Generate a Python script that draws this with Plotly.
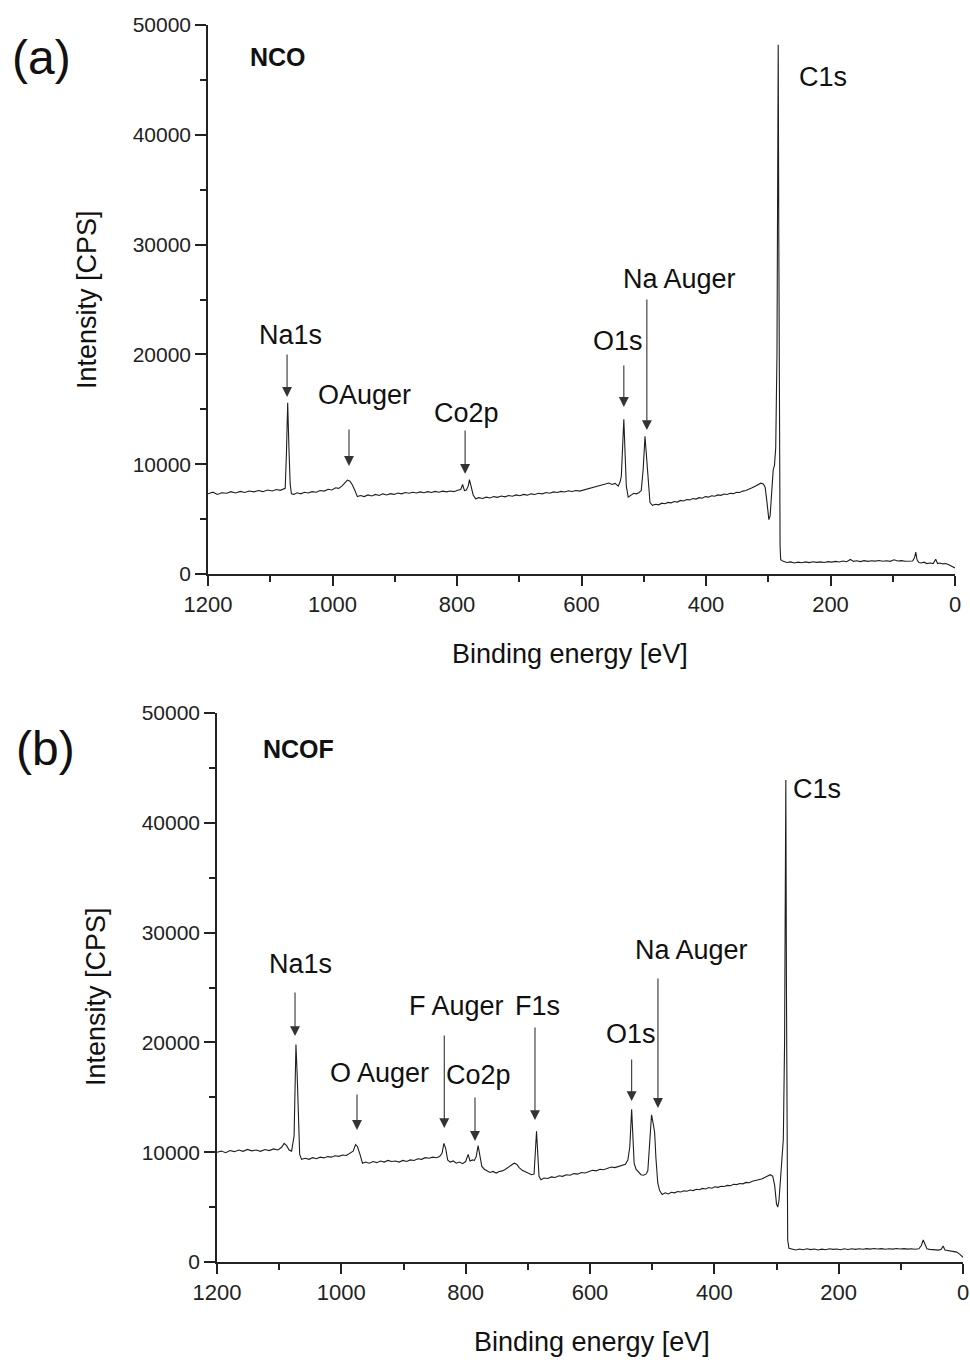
import plotly.graph_objects as go

# ---------------- Panel (a): NCO ----------------
be_a = [1200,1192,1185,1178,1170,1163,1156,1148,1141,1134,1126,1119,1112,1104,1097,1090,1084,1079,1076,1074,1072,1070,1068,1066,
        1062,1057,1051,1045,1039,1033,1026,1020,1013,1007,1001,995,990,985,980,976,972,968,964,960,955,949,943,937,931,925,919,
        913,907,901,895,889,883,877,871,865,859,853,847,841,835,829,823,817,811,805,799,794,791,788,785,782,780,777,774,770,765,
        759,753,747,741,735,729,723,717,711,705,699,693,687,681,675,669,663,657,651,645,639,633,627,621,615,609,603,597,591,585,
        579,573,567,561,556,551,546,541,538,536,534,532,530,528,525,521,516,512,508,504,501,498,496,493,490,486,481,476,471,466,
        461,456,451,446,441,436,431,426,421,416,411,406,401,396,391,386,381,376,371,366,361,356,351,346,341,336,331,326,321,316,
        312,308,305,302,299,297,295,292,290,288,286,285,284,283,282,281,280,276,270,264,258,252,246,240,234,228,222,216,210,204,
        198,192,186,180,174,168,163,158,152,146,140,134,128,122,116,110,104,98,92,86,80,74,68,65,63,61,58,54,50,45,40,35,31,28,
        24,20,15,10,6,3,0]
int_a = [7300,7450,7250,7400,7350,7500,7380,7520,7420,7560,7480,7600,7500,7650,7560,7700,7620,7720,7800,11000,15600,11500,8200,7300,
         7250,7400,7300,7450,7380,7500,7450,7600,7550,7720,7650,7850,7800,8000,8300,8550,8450,8100,7600,7050,7150,7050,7200,7100,7250,7150,7300,
         7200,7320,7250,7380,7300,7420,7350,7450,7380,7480,7400,7500,7420,7520,7450,7550,7480,7560,7500,7620,7700,8150,7600,7650,8000,8600,7900,7200,6850,6950,
         6880,7000,6920,7050,6980,7100,7030,7150,7080,7200,7130,7250,7180,7300,7240,7350,7300,7420,7360,7480,7420,7520,7470,7580,7520,7600,7550,7650,7720,7800,
         7900,8000,8100,8200,8280,8150,8250,8000,8400,8900,11500,14100,11000,8000,7000,7150,7350,7300,7400,7600,9500,12550,11000,8500,6500,6250,6350,6300,6450,6400,
         6520,6480,6600,6550,6700,6650,6780,6750,6880,6820,6950,6900,7050,7000,7120,7080,7200,7160,7280,7240,7350,7320,7450,7420,7550,7600,7700,7850,8000,8150,
         8270,8200,7900,6500,4950,5300,7500,9500,9900,11500,20000,41200,48200,30000,8000,2500,1300,1150,1050,1100,1000,1080,1020,1100,1040,1120,1060,1100,1050,1130,
         1080,1150,1100,1180,1120,1320,1150,1200,1130,1220,1150,1200,1170,1230,1160,1210,1150,1300,1180,1220,1160,1200,1180,1500,2000,1300,1050,1000,1080,950,1000,950,1350,950,
         1000,920,950,850,700,600,550]

# ---------------- Panel (b): NCOF ----------------
be_b = [1200,1193,1186,1179,1172,1165,1158,1151,1144,1137,1130,1123,1116,1109,1102,1096,1092,1088,1084,1080,1076,1073,1071,1069,1067,
        1064,1058,1052,1046,1040,1034,1028,1022,1016,1010,1004,998,992,986,981,977,974,970,966,961,955,949,943,937,931,925,919,913,
        907,901,895,889,883,877,871,865,859,853,847,842,838,835,832,829,825,820,815,810,805,800,796,793,789,786,783,780,777,774,770,
        766,761,756,751,746,741,736,731,726,722,718,714,709,704,699,694,690,688,686,684,682,679,674,668,662,656,650,644,638,632,626,
        620,614,608,602,596,590,584,578,572,566,560,554,548,543,539,536,533,531,529,526,522,518,514,510,507,504,501,498,496,494,491,
        488,484,479,474,469,464,459,454,449,444,439,434,429,424,419,414,409,404,399,394,389,384,379,374,369,364,359,354,349,344,339,
        334,329,324,319,314,310,306,303,300,298,296,293,291,289,287,286,285,284,283,282,280,275,269,263,257,251,245,239,233,227,221,
        215,209,203,197,191,185,179,173,167,161,155,149,143,137,131,125,119,113,107,101,95,89,83,77,71,67,64,61,58,54,49,44,39,35,
        32,29,25,20,15,10,5,0]
int_b = [10000,10100,9950,10150,10050,10200,10080,10250,10120,10200,10080,10250,10150,10300,10200,10450,10800,10600,10200,10100,11500,19800,17000,12000,9800,
         9350,9450,9350,9500,9400,9550,9480,9600,9550,9680,9620,9750,9700,9900,10100,10700,10500,9800,9000,9100,9000,9150,9050,9200,9100,9250,9150,9200,
         9100,9250,9150,9300,9250,9400,9350,9500,9450,9550,9500,9600,9900,10800,10300,9300,9100,9200,9000,9100,8950,9150,9800,9200,9300,9250,9600,10600,9600,8700,8450,
         8300,8150,8250,8100,8250,8300,8450,8650,8850,9000,8900,8600,8350,8200,8050,7950,8000,9500,11900,9800,7800,7500,7650,7600,7750,7700,7850,7800,7950,7900,8050,
         8000,8150,8100,8250,8350,8300,8450,8400,8550,8650,8600,8700,8800,8900,9300,10500,13900,11500,9000,8450,8200,7950,7900,8000,8300,10500,13400,12500,11800,9500,7200,
         6500,6150,6300,6200,6350,6300,6420,6380,6480,6450,6550,6500,6620,6580,6700,6650,6780,6720,6850,6800,6900,6880,6980,6950,7080,7050,7150,7120,7250,7220,7350,
         7400,7480,7550,7700,7850,7950,7800,7000,5300,5000,5600,7800,9000,11200,20000,38500,43900,25000,6000,2000,1250,1150,1100,1180,1120,1200,1130,1180,1100,1170,1120,
         1200,1150,1180,1120,1200,1140,1210,1150,1200,1160,1220,1170,1230,1180,1220,1160,1210,1170,1230,1180,1220,1170,1200,1160,1200,1500,2000,1600,1200,1150,1120,1100,1080,1150,
         1450,1100,1050,1000,950,900,700,430]

x_ticks = [0, 200, 400, 600, 800, 1000, 1200]
x_tick_text = ["0", "200", "400", "600", "800", "1000", "1200"]
y_ticks = [0, 10000, 20000, 30000, 40000, 50000]
y_tick_text = ["0", "10000", "20000", "30000", "40000", "50000"]

# peak labels: (text, text_x, text_y, arrow_x, arrow_tip_y, arrow_len_px)
labels_a = [
    ("Na1s", 1068, 21770, 1073, 16120, 44),
    ("OAuger", 948, 16300, 973.5, 9840, 38),
    ("Co2p", 785.5, 14660, 787, 9110, 45),
    ("O1s", 541, 21220, 532, 15210, 43),
    ("Na Auger", 443, 26870, 495, 13110, 132),
    ("C1s", 212, 45260, None, None, None),
]
labels_b = [
    ("Na1s", 1065, 27140, 1074.5, 20580, 45),
    ("O Auger", 939.4, 17210, 974.8, 12020, 37),
    ("F Auger", 814, 23320, 834.4, 12200, 94),
    ("Co2p", 780, 17030, 785, 11020, 45),
    ("F1s", 685, 23320, 688.5, 12930, 94),
    ("O1s", 534, 20770, 533, 14660, 43),
    ("Na Auger", 436, 28420, 490.7, 14030, 131),
    ("C1s", 235, 43080, None, None, None),
]

W, H = 970, 1363
FONT = "Liberation Sans, Arial, sans-serif"
AX = "#222222"

fig = go.Figure()
fig.add_trace(go.Scatter(x=be_a, y=int_a, mode="lines", line=dict(color="#1e1e1e", width=1.1),
                         xaxis="x", yaxis="y", showlegend=False, hoverinfo="skip"))
fig.add_trace(go.Scatter(x=be_b, y=int_b, mode="lines", line=dict(color="#1e1e1e", width=1.1),
                         xaxis="x2", yaxis="y2", showlegend=False, hoverinfo="skip"))

def xax(domain, anchor):
    return dict(domain=domain, anchor=anchor, range=[1200, 0], tickmode="array",
                tickvals=x_ticks, ticktext=x_tick_text, automargin=False,
                ticks="outside", ticklen=10, tickwidth=1.5, tickcolor=AX,
                showline=True, linecolor=AX, linewidth=1.5, showgrid=False, zeroline=False,
                minor=dict(ticks="outside", ticklen=6, tickwidth=1.5, tickcolor=AX, dtick=100, tick0=0, showgrid=False),
                tickfont=dict(family=FONT, size=22, color="#222"))

def yax(domain, anchor):
    return dict(domain=domain, anchor=anchor, range=[0, 50000], tickmode="array",
                tickvals=y_ticks, ticktext=y_tick_text, automargin=False,
                ticks="outside", ticklen=11, tickwidth=1.5, tickcolor=AX,
                showline=True, linecolor=AX, linewidth=1.5, showgrid=False, zeroline=False,
                minor=dict(ticks="outside", ticklen=6, tickwidth=1.5, tickcolor=AX, dtick=5000, tick0=0, showgrid=False),
                tickfont=dict(family=FONT, size=21, color="#222"))

fig.update_layout(
    width=W, height=H, margin=dict(l=0, r=0, t=0, b=0, autoexpand=False),
    paper_bgcolor="white", plot_bgcolor="white", showlegend=False,
    xaxis=xax([208 / W, 955 / W], "y"),
    yaxis=yax([1 - 574 / H, 1 - 25 / H], "x"),
    xaxis2=xax([217 / W, 963 / W], "y2"),
    yaxis2=yax([1 - 1262 / H, 1 - 713 / H], "x2"),
)

ann = []
def add_labels(labels, xr, yr):
    for txt, tx, ty, axx, tipy, ln in labels:
        ann.append(dict(text=txt, x=tx, y=ty, xref=xr, yref=yr, showarrow=False,
                        font=dict(family=FONT, size=27, color="#111"), xanchor="center", yanchor="middle"))
        if axx is not None:
            ann.append(dict(text="", x=axx, y=tipy, xref=xr, yref=yr, showarrow=True,
                            ax=0, ay=-ln, arrowhead=2, arrowsize=1.8, arrowwidth=1.1,
                            arrowcolor="#333", standoff=0, startstandoff=0))

add_labels(labels_a, "x", "y")
add_labels(labels_b, "x2", "y2")

# sample names
ann.append(dict(text="<b>NCO</b>", x=1087.6, y=47090, xref="x", yref="y", showarrow=False,
                font=dict(family=FONT, size=25, color="#111")))
ann.append(dict(text="<b>NCOF</b>", x=1069.7, y=46720, xref="x2", yref="y2", showarrow=False,
                font=dict(family=FONT, size=25, color="#111")))

# panel letters
ann.append(dict(text="(a)", x=41 / W, y=1 - 58 / H, xref="paper", yref="paper", showarrow=False,
                font=dict(family=FONT, size=48, color="#111"), xanchor="center", yanchor="middle"))
ann.append(dict(text="(b)", x=45 / W, y=1 - 748 / H, xref="paper", yref="paper", showarrow=False,
                font=dict(family=FONT, size=48, color="#111"), xanchor="center", yanchor="middle"))

# axis titles
for xc, yc in [(570, 654), (592, 1342)]:
    ann.append(dict(text="Binding energy [eV]", x=xc / W, y=1 - yc / H, xref="paper", yref="paper",
                    showarrow=False, font=dict(family=FONT, size=27, color="#111"),
                    xanchor="center", yanchor="middle"))
for xc, yc in [(87, 300), (96, 997)]:
    ann.append(dict(text="Intensity [CPS]", x=xc / W, y=1 - yc / H, xref="paper", yref="paper",
                    showarrow=False, textangle=-90, font=dict(family=FONT, size=27, color="#111"),
                    xanchor="center", yanchor="middle"))

fig.update_layout(annotations=ann)
fig.write_html("out.html")
